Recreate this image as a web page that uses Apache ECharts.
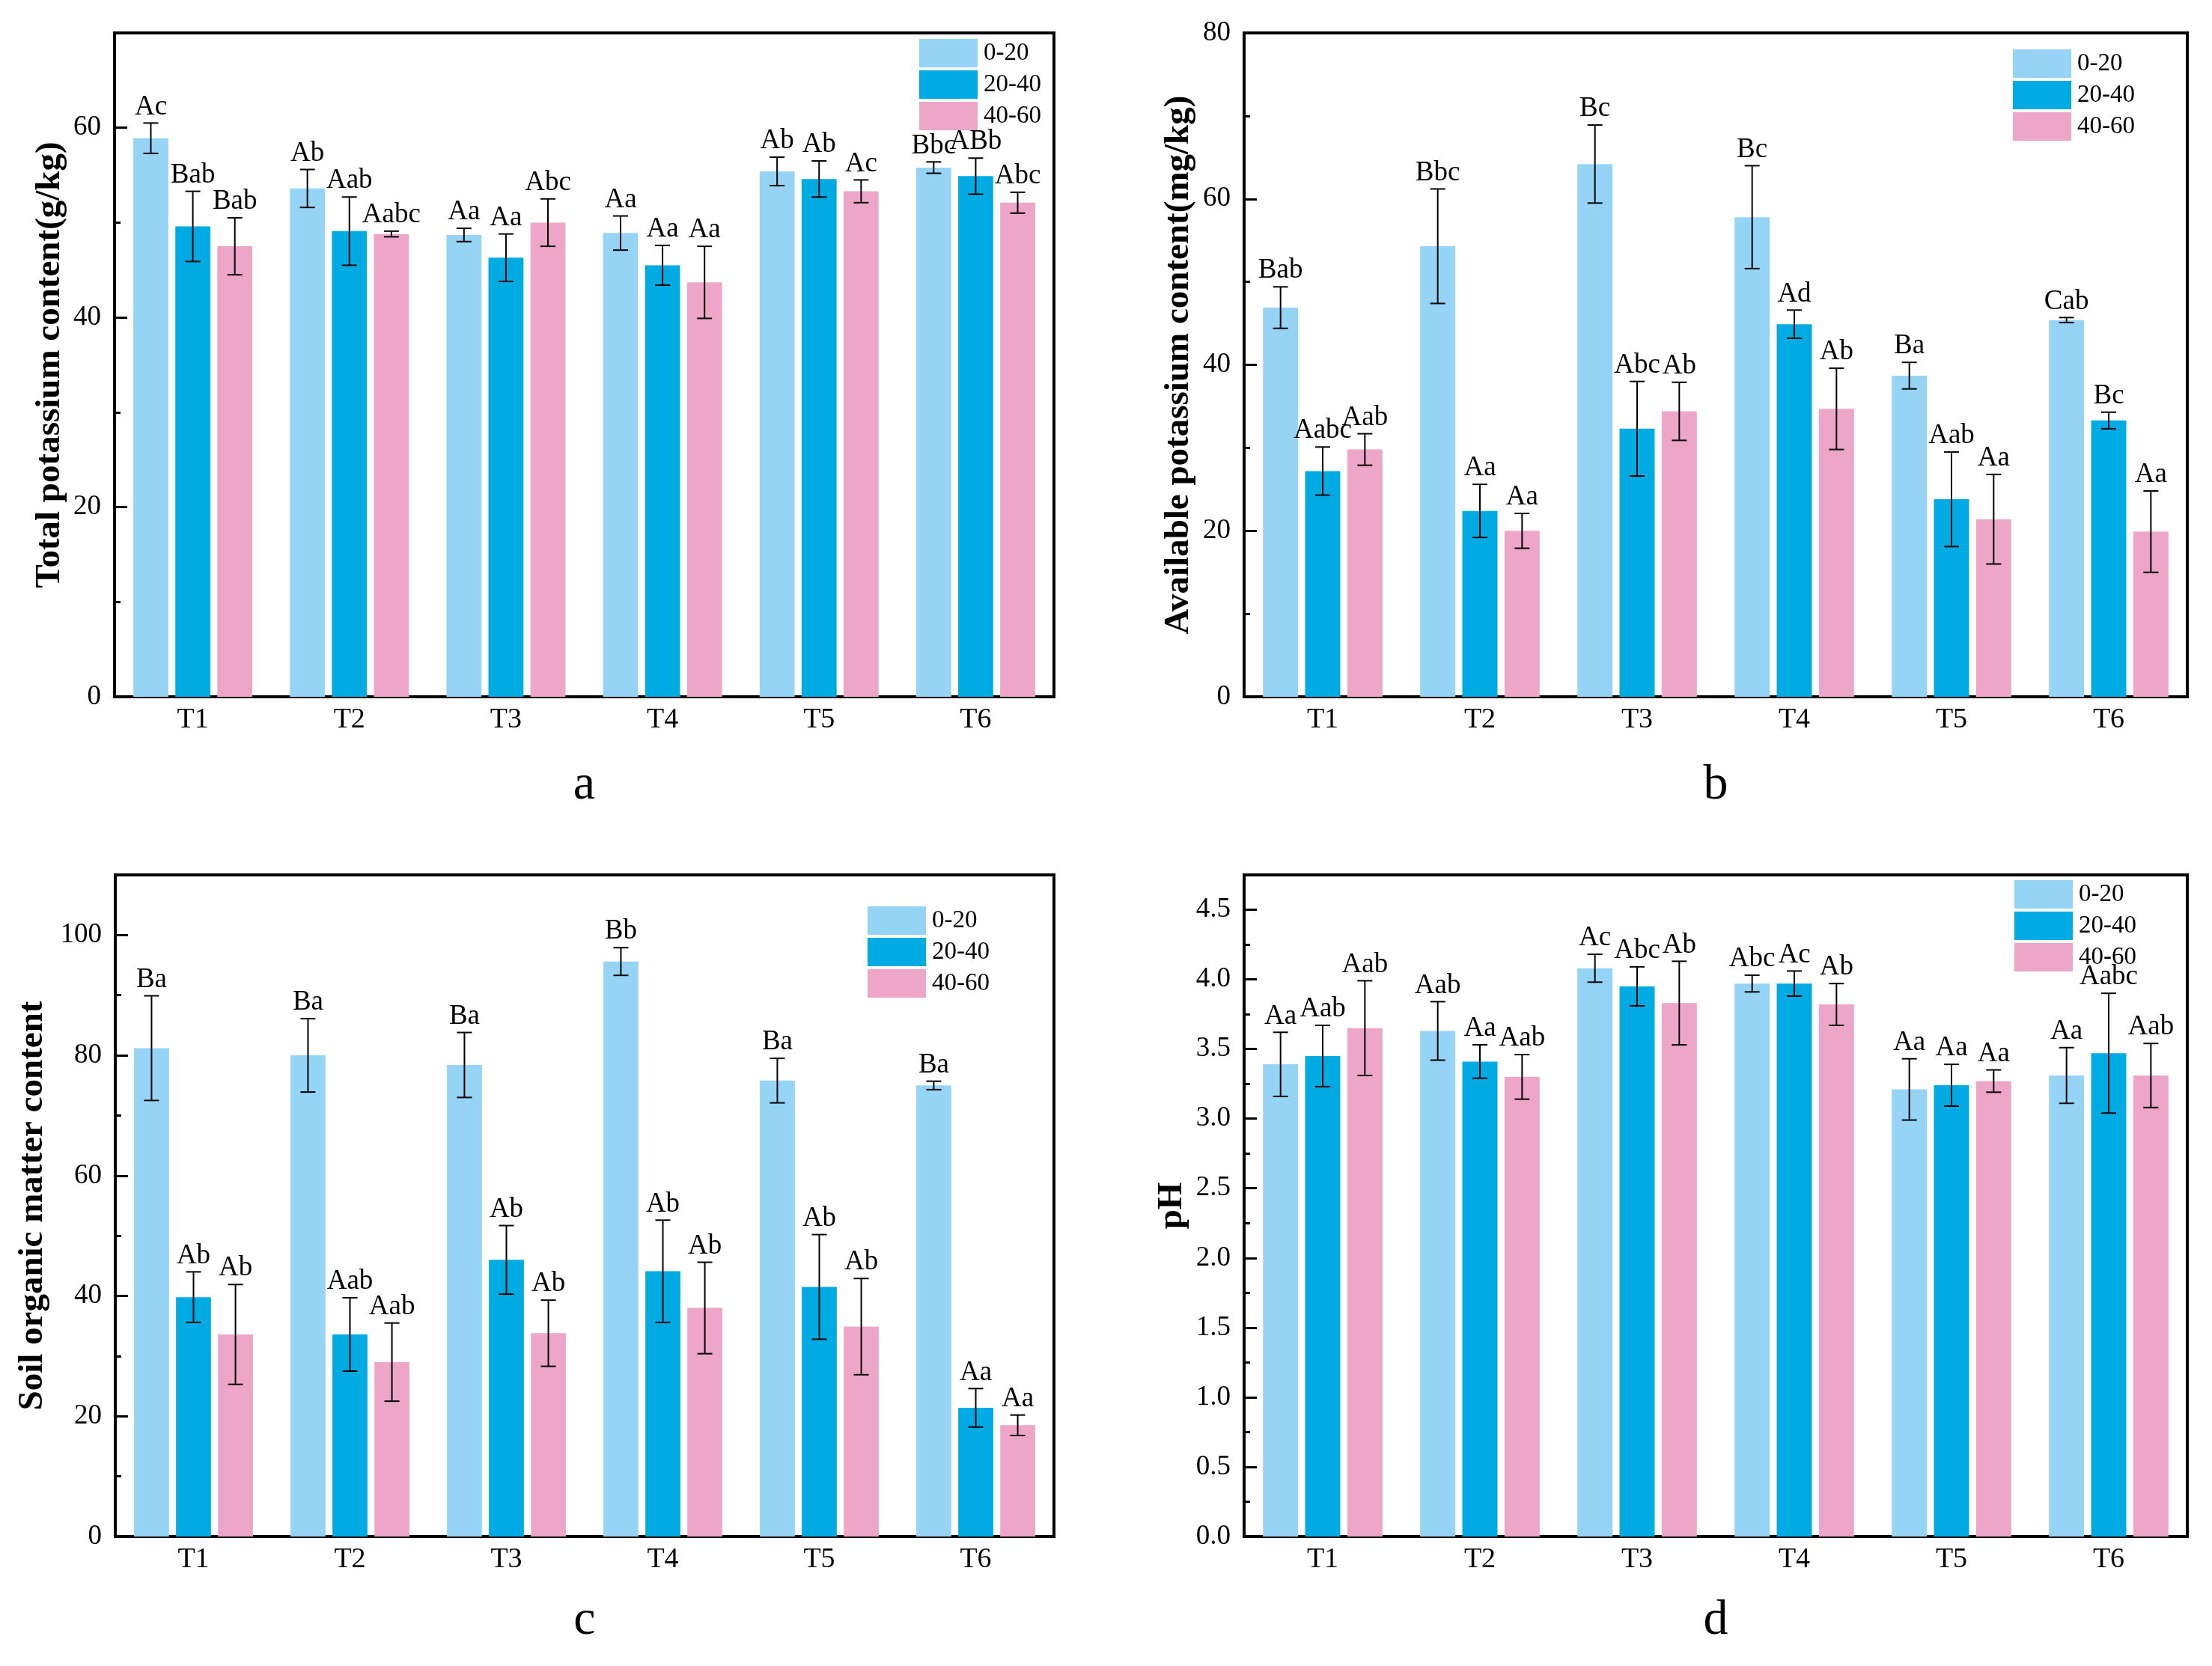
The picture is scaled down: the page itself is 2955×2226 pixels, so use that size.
<!DOCTYPE html>
<html>
<head>
<meta charset="utf-8">
<script src="https://cdn.jsdelivr.net/npm/echarts@6/dist/echarts.min.js"></script>
<style>
html,body{margin:0;padding:0;background:#fff;}
#chart{width:2955px;height:2226px;}
</style>
</head>
<body>
<div id="chart"></div>
<script>
// ---------- data ----------
const categories = ['T1', 'T2', 'T3', 'T4', 'T5', 'T6'];
const depths = ['0-20', '20-40', '40-60'];

// a: Total potassium content (g/kg)
const tkMean = [
  [58.9, 53.6, 48.7, 48.9, 55.4, 55.8],
  [49.6, 49.1, 46.3, 45.5, 54.6, 54.9],
  [47.5, 48.8, 50.0, 43.7, 53.3, 52.1]
];
const tkErr = [
  [1.6, 2.0, 0.7, 1.8, 1.5, 0.6],
  [3.7, 3.6, 2.5, 2.1, 1.9, 1.9],
  [3.0, 0.3, 2.5, 3.8, 1.2, 1.1]
];
const tkSig = [
  ['Ac', 'Ab', 'Aa', 'Aa', 'Ab', 'Bbc'],
  ['Bab', 'Aab', 'Aa', 'Aa', 'Ab', 'ABb'],
  ['Bab', 'Aabc', 'Abc', 'Aa', 'Ac', 'Abc']
];

// b: Available potassium content (mg/kg)
const akMean = [
  [46.9, 54.3, 64.2, 57.8, 38.7, 45.4],
  [27.2, 22.4, 32.3, 44.9, 23.8, 33.3],
  [29.8, 20.0, 34.4, 34.7, 21.4, 19.9]
];
const akErr = [
  [2.5, 6.9, 4.7, 6.2, 1.6, 0.3],
  [2.9, 3.2, 5.7, 1.7, 5.7, 1.0],
  [1.9, 2.1, 3.5, 4.9, 5.4, 4.9]
];
const akSig = [
  ['Bab', 'Bbc', 'Bc', 'Bc', 'Ba', 'Cab'],
  ['Aabc', 'Aa', 'Abc', 'Ad', 'Aab', 'Bc'],
  ['Aab', 'Aa', 'Ab', 'Ab', 'Aa', 'Aa']
];

// c: Soil organic matter content
const somMean = [
  [81.2, 80.0, 78.4, 95.6, 75.8, 75.0],
  [39.8, 33.6, 46.0, 44.1, 41.5, 21.4],
  [33.6, 29.0, 33.8, 38.0, 34.9, 18.5]
];
const somErr = [
  [8.7, 6.1, 5.4, 2.3, 3.7, 0.7],
  [4.2, 6.1, 5.7, 8.5, 8.7, 3.2],
  [8.3, 6.5, 5.5, 7.6, 8.0, 1.7]
];
const somSig = [
  ['Ba', 'Ba', 'Ba', 'Bb', 'Ba', 'Ba'],
  ['Ab', 'Aab', 'Ab', 'Ab', 'Ab', 'Aa'],
  ['Ab', 'Aab', 'Ab', 'Ab', 'Ab', 'Aa']
];

// d: pH
const phMean = [
  [3.39, 3.63, 4.08, 3.97, 3.21, 3.31],
  [3.45, 3.41, 3.95, 3.97, 3.24, 3.47],
  [3.65, 3.30, 3.83, 3.82, 3.27, 3.31]
];
const phErr = [
  [0.23, 0.21, 0.10, 0.06, 0.22, 0.20],
  [0.22, 0.12, 0.14, 0.09, 0.15, 0.43],
  [0.34, 0.16, 0.30, 0.15, 0.08, 0.23]
];
const phSig = [
  ['Aa', 'Aab', 'Ac', 'Abc', 'Aa', 'Aa'],
  ['Aab', 'Aa', 'Abc', 'Ac', 'Aa', 'Aabc'],
  ['Aab', 'Aab', 'Ab', 'Ab', 'Aa', 'Aab']
];

// axis ranges / tick steps
const yNames = ['Total potassium content(g/kg)', 'Available potassium content(mg/kg)', 'Soil organic matter content', 'pH'];
const yMax = [70, 80, 110, 4.75];
const yStep = [20, 20, 20, 0.5];
const panelLetters = ['a', 'b', 'c', 'd'];

// ---------- styling / layout ----------
const FONT = '"Liberation Serif", "Times New Roman", serif';
const colors = ['#96D4F5', '#00ABE4', '#EEA6C8'];
const grids = [
  {left: 153, top: 44, width: 1255, height: 887},
  {left: 1662, top: 44, width: 1260, height: 887},
  {left: 154, top: 1169, width: 1254, height: 884},
  {left: 1662, top: 1169, width: 1260, height: 884}
];
const nameGaps = [63, 64, 87, 73];
const legendPos = [
  {left: 1228, top: 52}, {left: 2689, top: 66},
  {left: 1159, top: 1211}, {left: 2691, top: 1176}
];
const panelMeans = [tkMean, akMean, somMean, phMean];
const panelErrs = [tkErr, akErr, somErr, phErr];
const panelSigs = [tkSig, akSig, somSig, phSig];
const CAT_GAP = 0.24, BAR_GAP = 0.2;

const option = {
  backgroundColor: '#fff',
  animation: false,
  textStyle: {fontFamily: FONT, color: '#000'},
  grid: grids.map(g => Object.assign({show: true, borderColor: '#000', borderWidth: 4, containLabel: false}, g)),
  xAxis: grids.map((g, p) => ({
    type: 'category', gridIndex: p, data: categories,
    axisTick: {show: false},
    axisLine: {lineStyle: {color: '#000', width: 4}},
    axisLabel: {fontSize: 38, fontFamily: FONT, color: '#000', margin: 12}
  })),
  yAxis: [],
  legend: legendPos.map(lp => ({
    left: lp.left, top: lp.top, orient: 'vertical', icon: 'rect',
    itemWidth: 78, itemHeight: 38, itemGap: 4, padding: 0,
    selectedMode: false,
    data: depths,
    textStyle: {fontSize: 33, fontFamily: 'Liberation Serif', fontWeight: 'normal', color: '#000', padding: [0, 0, 0, 3]}
  })),
  graphic: [],
  series: []
};

for (let p = 0; p < 4; p++) {
  const isPH = p === 3;
  option.yAxis.push({
    type: 'value', gridIndex: p, position: 'left', min: 0, max: yMax[p], interval: yStep[p],
    axisLine: {show: true, lineStyle: {color: '#000', width: 4}},
    axisTick: {show: true, inside: true, length: 17, lineStyle: {color: '#000', width: 3}},
    axisLabel: {
      fontSize: 37, fontFamily: FONT, color: '#000', margin: 18,
      showMaxLabel: (Math.abs(yMax[p] / yStep[p] - Math.round(yMax[p] / yStep[p])) < 1e-9),
      formatter: v => isPH ? v.toFixed(1) : String(v)
    },
    splitLine: {show: false},
    name: yNames[p], nameLocation: 'middle', nameRotate: 90, nameGap: nameGaps[p],
    nameTextStyle: {fontSize: 47, fontWeight: 'bold', fontFamily: FONT, color: '#000'}
  });
  option.yAxis.push({
    type: 'value', gridIndex: p, position: 'left', min: 0, max: yMax[p], interval: yStep[p] / 2,
    axisLine: {show: false},
    axisTick: {show: true, inside: true, length: 8, lineStyle: {color: '#000', width: 3}},
    axisLabel: {show: false},
    splitLine: {show: false}
  });
  const means = panelMeans[p], errs = panelErrs[p], sigs = panelSigs[p];
  for (let d = 0; d < 3; d++) {
    option.series.push({
      type: 'bar', name: depths[d], xAxisIndex: p, yAxisIndex: 2 * p,
      data: means[d], barGap: (BAR_GAP * 100) + '%', barCategoryGap: (CAT_GAP * 100) + '%',
      itemStyle: {color: colors[d]}, z: 2
    });
  }
  for (let d = 0; d < 3; d++) {
    const dd = d;
    option.series.push({
      type: 'custom', name: 'err' + p + '_' + d, xAxisIndex: p, yAxisIndex: 2 * p,
      encode: {x: 0, y: 1}, z: 5,
      data: categories.map((c, i) => [i, means[d][i], errs[d][i]]),
      renderItem: function (params, api) {
        const xi = api.value(0), m = api.value(1), e = api.value(2);
        const c = api.coord([xi, m]);
        const band = api.size([1, 0])[0];
        const bw = band * (1 - CAT_GAP) / (3 + 2 * BAR_GAP);
        const cx = c[0] + (dd - 1) * bw * (1 + BAR_GAP);
        const yt = api.coord([xi, m + e])[1];
        const yb = api.coord([xi, m - e])[1];
        const cap = 10;
        const ls = {stroke: '#000', lineWidth: 2};
        return {
          type: 'group',
          children: [
            {type: 'line', shape: {x1: cx, y1: yt, x2: cx, y2: yb}, style: ls},
            {type: 'line', shape: {x1: cx - cap, y1: yt, x2: cx + cap, y2: yt}, style: ls},
            {type: 'line', shape: {x1: cx - cap, y1: yb, x2: cx + cap, y2: yb}, style: ls},
            {type: 'text', x: cx, y: yt - 3,
              style: {text: sigs[dd][params.dataIndex], fontSize: 37, fontFamily: FONT, fill: '#000',
                align: 'center', verticalAlign: 'bottom'}}
          ]
        };
      }
    });
  }
  const g = grids[p];
  option.graphic.push({
    type: 'text', x: g.left + g.width / 2, y: p < 2 ? 1050 : 2166,
    style: {text: panelLetters[p], fontSize: 66, fontFamily: FONT, fill: '#000', align: 'center', verticalAlign: 'middle'}
  });
}

const chart = echarts.init(document.getElementById('chart'), null, {renderer: 'canvas'});
chart.setOption(option);
</script>
</body>
</html>
